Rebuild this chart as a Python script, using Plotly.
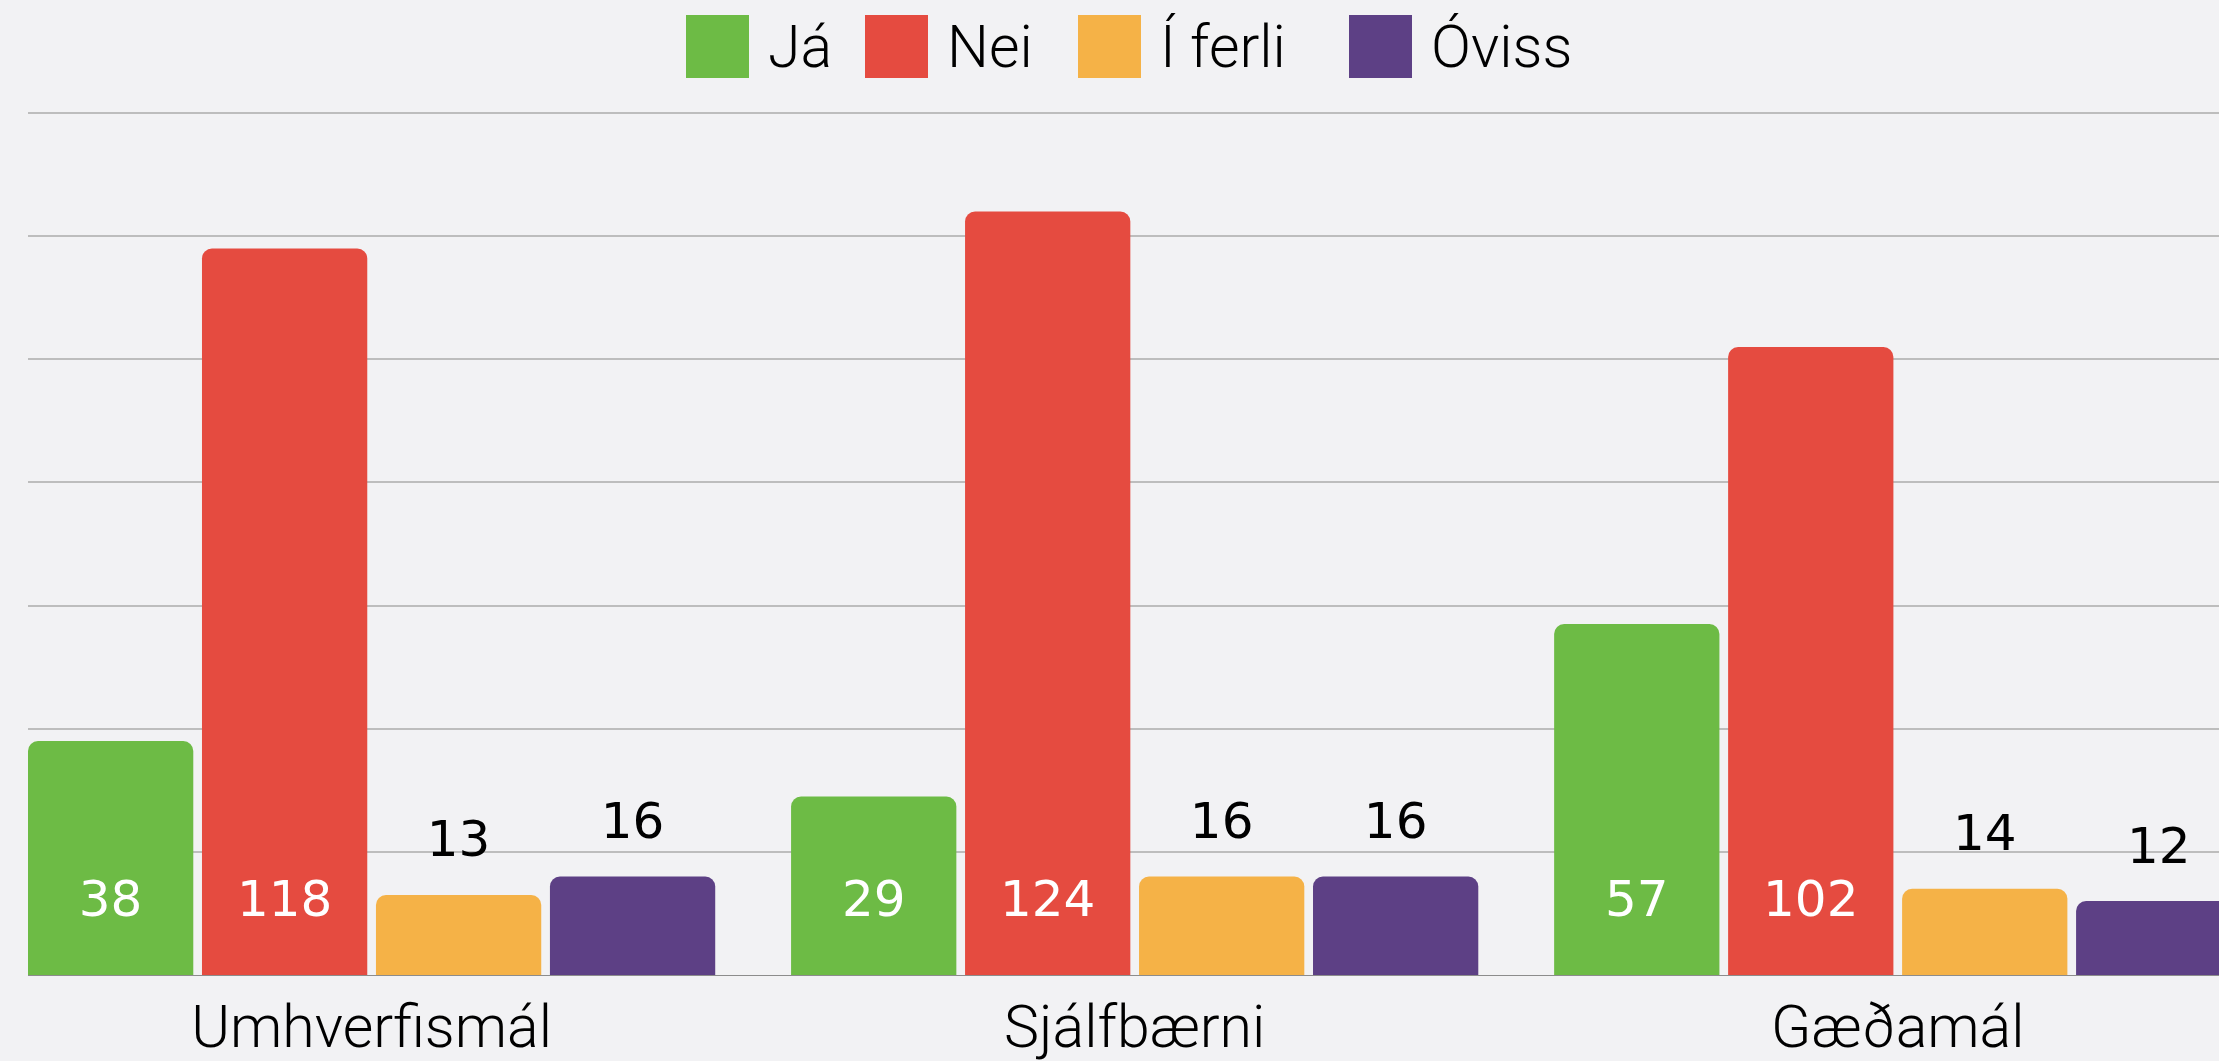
import plotly.graph_objects as go

categories = ['Umhverfismál', 'Sjálfbærni', 'Gæðamál']
series_names = ['Já', 'Nei', 'Í ferli', 'Óviss']
ja = [38, 29, 57]
nei = [118, 124, 102]
i_ferli = [13, 16, 14]
oviss = [16, 16, 12]

colors = ['#6DBB45', '#E54B40', '#F5B247', '#5D4085']
values = [ja, nei, i_ferli, oviss]
label_inside = [True, True, False, False]

# page geometry (px)
W, H = 2219, 1061
ML, MR, MT, MB = 28, 0, 110, 86
PW, PH = W - ML - MR, H - MT - MB
LABEL_Y = 11.6      # where the white labels sit inside the bars
OUT_OFFSET = 8.3    # gap above bar for the black labels
GAP = 0.088

fig = go.Figure()

for name, vals, color in zip(series_names, values, colors):
    fig.add_trace(go.Bar(
        x=categories, y=vals, name=name,
        marker={'color': color, 'line': {'width': 0}},
        showlegend=False, hoverinfo='skip',
    ))

# value labels, grouped the same way as the bars
for vals, inside in zip(values, label_inside):
    ys = [LABEL_Y] * len(vals) if inside else [v + OUT_OFFSET for v in vals]
    fig.add_trace(go.Scatter(
        x=categories, y=ys, mode='text',
        text=[str(v) for v in vals],
        textposition='middle center',
        textfont={'family': 'DejaVu Sans', 'size': 50,
                  'color': 'white' if inside else 'black'},
        showlegend=False, hoverinfo='skip',
    ))

# hand-made legend with big square swatches
legend_px = [686, 865, 1078, 1349]
sw, top = 63, 15
shapes, annotations = [], []
for name, color, lx in zip(series_names, colors, legend_px):
    shapes.append(dict(
        type='rect', xref='paper', yref='paper',
        x0=(lx - ML) / PW, x1=(lx + sw - ML) / PW,
        y0=(H - MB - top) / PH, y1=(H - MB - top - sw) / PH,
        fillcolor=color, line={'width': 0},
    ))
    annotations.append(dict(
        xref='paper', yref='paper', showarrow=False,
        x=(lx + sw + 17 - ML) / PW, y=(H - MB - top - sw / 2) / PH,
        xanchor='left', yanchor='middle', text=name,
        font={'family': 'Roboto', 'size': 59, 'color': 'black', 'weight': 300},
    ))

fig.update_layout(
    width=W, height=H,
    margin={'l': ML, 'r': MR, 't': MT, 'b': MB, 'pad': 0},
    paper_bgcolor='#F2F2F4', plot_bgcolor='#F2F2F4',
    barmode='group', bargap=GAP, bargroupgap=0.05, barcornerradius=10,
    scattermode='group', scattergap=GAP,
    shapes=shapes, annotations=annotations,
    xaxis={
        'range': [-0.4503, 2.421], 'showgrid': False, 'automargin': False,
        'showline': True, 'linecolor': '#8C8C8C', 'linewidth': 1,
        'ticks': '', 'ticklabelstandoff': 0,
        'tickfont': {'family': 'Roboto', 'size': 59, 'color': 'black', 'weight': 300},
    },
    yaxis={
        'range': [0, 140.5], 'dtick': 20, 'showticklabels': False,
        'automargin': False,
        'gridcolor': '#BDBDBD', 'gridwidth': 1.5, 'zeroline': False,
    },
)

fig.write_html('out.html', config={'displayModeBar': False},
               post_script="document.body.style.margin='0px';")
